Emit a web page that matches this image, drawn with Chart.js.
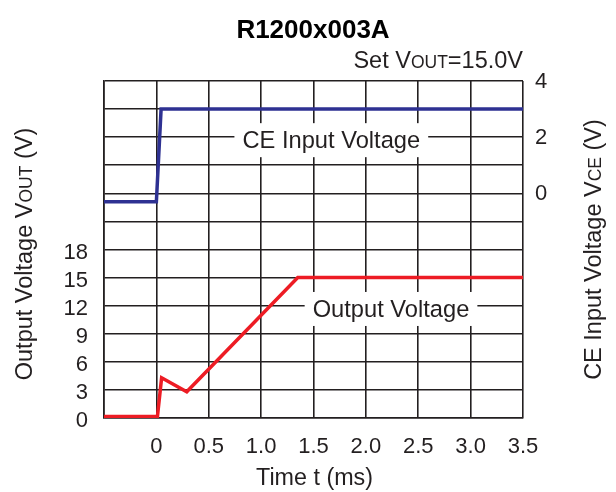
<!DOCTYPE html>
<html><head><meta charset="utf-8">
<script src="https://cdn.jsdelivr.net/npm/chart.js@4.4.1/dist/chart.umd.min.js"></script>
<style>html,body{margin:0;padding:0;background:#fff}canvas{display:block}</style>
</head><body>
<canvas id="c" width="616" height="492"></canvas>
<script>
// ---- data ----
const chartTitle = 'R1200x003A';
const outTime    = [-0.5, 0.01, 0.05, 0.29, 1.35, 3.5];   // ms
const outVoltage = [0.15, 0.15, 4.3, 2.8, 15.0, 15.0];    // V (left axis)
const ceTime     = [-0.5, 0.0, 0.045, 3.5];                // ms
const ceVoltage  = [-0.3, -0.3, 3.0, 3.0];                 // V (right axis)
const leftTickLabels  = [0, 3, 6, 9, 12, 15, 18];
const rightTickLabels = [0, 2, 4];
const xTickLabels     = ['0', '0.5', '1.0', '1.5', '2.0', '2.5', '3.0', '3.5'];

const FONT = '"Liberation Sans", Arial, Helvetica, sans-serif';
const INK = '#231f20';
const GRID = '#231f20';

function drawParts(ctx, parts, x, y, align) {
  let total = 0;
  parts.forEach(p => { ctx.font = p.f; p.w = ctx.measureText(p.t).width; total += p.w; });
  let cx = align === 'center' ? x - total / 2 : (align === 'right' ? x - total : x);
  ctx.textAlign = 'left';
  ctx.textBaseline = 'alphabetic';
  parts.forEach(p => { ctx.font = p.f; ctx.fillText(p.t, cx, y); cx += p.w; });
  return total;
}

const big = s => s + 'px ' + FONT;

const decor = {
  id: 'decor',
  beforeDatasetsDraw(chart) {
    const ctx = chart.ctx, xs = chart.scales.x, yl = chart.scales.y, yr = chart.scales.y2;
    ctx.save();
    const labels = [
      {t: 'CE Input Voltage', x: xs.getPixelForValue(1.67), y: yr.getPixelForValue(2) + 11},
      {t: 'Output Voltage', x: xs.getPixelForValue(2.24), y: yl.getPixelForValue(12) + 11.3}
    ];
    labels.forEach(l => {
      ctx.font = big(23.7);
      const w = ctx.measureText(l.t).width;
      ctx.fillStyle = '#fff';
      ctx.fillRect(l.x - w / 2 - 8, l.y - 25, w + 16, 34);
      ctx.fillStyle = INK;
      ctx.textAlign = 'center';
      ctx.textBaseline = 'alphabetic';
      ctx.fillText(l.t, l.x, l.y);
    });
    ctx.restore();
  },
  afterDraw(chart) {
    const ctx = chart.ctx;
    ctx.save();
    ctx.fillStyle = INK;
    // title
    ctx.font = 'bold 26px ' + FONT;
    ctx.textAlign = 'center';
    ctx.textBaseline = 'alphabetic';
    ctx.fillStyle = '#000';
    ctx.fillText(chartTitle, 313, 37.5);
    ctx.fillStyle = INK;
    // subtitle
    drawParts(ctx, [{t: 'Set V', f: big(23.5)}, {t: 'OUT', f: big(17.5)}, {t: '=15.0V', f: big(23.5)}], 523, 68.3, 'right');
    // x title
    ctx.font = big(23.3);
    ctx.textAlign = 'center';
    ctx.fillText('Time t (ms)', 314.5, 485);
    // left title
    ctx.save();
    ctx.translate(32, 254);
    ctx.rotate(-Math.PI / 2);
    drawParts(ctx, [{t: 'Output Voltage V', f: big(23.5)}, {t: 'OUT', f: big(17.5)}, {t: ' (V)', f: big(23.5)}], 0, 0, 'center');
    ctx.restore();
    // right title
    ctx.save();
    ctx.translate(601, 249.5);
    ctx.rotate(-Math.PI / 2);
    drawParts(ctx, [{t: 'CE Input Voltage V', f: big(23.5)}, {t: 'CE', f: big(17.5)}, {t: ' (V)', f: big(23.5)}], 0, 0, 'center');
    ctx.restore();
    ctx.restore();
  }
};

const tickFont = {family: FONT, size: 22};

new Chart(document.getElementById('c'), {
  type: 'line',
  data: {
    datasets: [
      {
        label: 'Output Voltage',
        data: outTime.map((t, i) => ({x: t, y: outVoltage[i]})),
        yAxisID: 'y',
        borderColor: '#ed1c24',
        borderWidth: 3.5,
        pointRadius: 0,
        tension: 0,
        borderJoinStyle: 'miter',
        fill: false
      },
      {
        label: 'CE Input Voltage',
        data: ceTime.map((t, i) => ({x: t, y: ceVoltage[i]})),
        yAxisID: 'y2',
        borderColor: '#2e3192',
        borderWidth: 3.5,
        pointRadius: 0,
        tension: 0,
        borderJoinStyle: 'miter',
        fill: false
      }
    ]
  },
  options: {
    responsive: false,
    animation: false,
    events: [],
    layout: {padding: {top: 81, left: 0, right: 0, bottom: 0}},
    plugins: {legend: {display: false}, title: {display: false}, tooltip: {enabled: false}},
    scales: {
      x: {
        type: 'linear',
        min: -0.5, max: 3.5,
        afterFit: s => { s.height = 74; },
        afterBuildTicks: s => { s.ticks = [-0.5, 0, 0.5, 1, 1.5, 2, 2.5, 3, 3.5].map(v => ({value: v})); },
        ticks: {
          stepSize: 0.5, autoSkip: false, maxRotation: 0, font: tickFont, color: INK, padding: 16,
          callback: v => { const i = Math.round(v / 0.5) - 0; return v < -0.01 ? '' : xTickLabels[Math.round(v * 2)]; }
        },
        grid: {color: GRID, lineWidth: 1.6, drawTicks: false},
        border: {color: GRID, width: 1.6}
      },
      y: {
        position: 'left',
        min: 0, max: 36,
        afterFit: s => { s.width = 104; },
        ticks: {
          stepSize: 3, autoSkip: false, font: tickFont, color: INK, padding: 16, labelOffset: 3,
          callback: v => leftTickLabels.includes(v) ? String(v) : ''
        },
        grid: {color: GRID, lineWidth: 1.6, drawTicks: false},
        border: {color: GRID, width: 1.6}
      },
      y2: {
        position: 'right',
        min: -8, max: 4,
        afterFit: s => { s.width = 93; },
        ticks: {
          stepSize: 1, autoSkip: false, font: tickFont, color: INK, padding: 12, labelOffset: 1,
          callback: v => rightTickLabels.includes(v) ? String(v) : ''
        },
        grid: {display: false, drawTicks: false},
        border: {display: false}
      }
    }
  },
  plugins: [decor]
});
</script>
</body></html>
